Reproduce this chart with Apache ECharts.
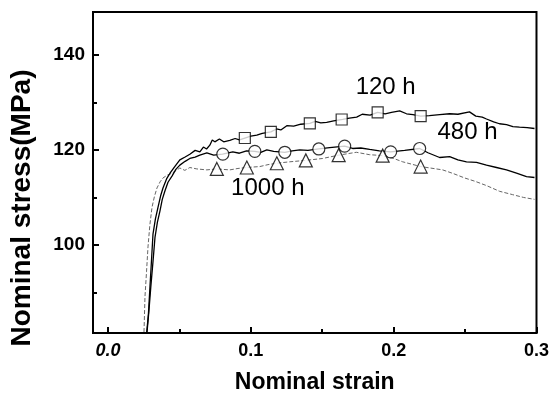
<!DOCTYPE html>
<html><head><meta charset="utf-8">
<script src="https://cdn.jsdelivr.net/npm/echarts@6/dist/echarts.min.js"></script>
<style>html,body{margin:0;padding:0;background:#fff}#c{width:552px;height:399px}</style>
</head><body><div id="c"></div>
<script>
const curve120 = [[0.0271,81.6],[0.0283,85.5],[0.0294,91.3],[0.0305,97.0],[0.0315,102.3],[0.0332,105.5],[0.035,107.9],[0.0368,110.3],[0.0385,112.0],[0.041,113.9],[0.0434,115.1],[0.047,116.6],[0.0503,117.9],[0.054,118.5],[0.0573,119.1],[0.061,119.9],[0.0643,119.6],[0.0668,120.6],[0.069,120.2],[0.0713,121.0],[0.073,122.1],[0.0748,121.7],[0.078,122.3],[0.081,121.7],[0.0853,122.0],[0.089,122.4],[0.092,122.1],[0.0958,122.5],[0.1,122.9],[0.1042,123.1],[0.108,123.5],[0.114,123.8],[0.118,124.4],[0.121,124.2],[0.1252,125.1],[0.13,125.0],[0.135,125.4],[0.1413,125.6],[0.145,126.0],[0.149,125.7],[0.1531,125.8],[0.158,126.1],[0.1643,126.4],[0.169,126.7],[0.1741,126.9],[0.178,127.5],[0.1835,127.3],[0.1888,127.9],[0.194,127.6],[0.1985,127.9],[0.2042,128.2],[0.209,127.6],[0.2135,127.4],[0.2189,127.1],[0.225,127.2],[0.2322,127.4],[0.2392,127.6],[0.245,127.5],[0.2531,128.0],[0.2575,127.1],[0.262,126.9],[0.265,126.5],[0.27,125.9],[0.2741,125.5],[0.279,125.3],[0.2835,124.9],[0.2881,124.8],[0.2935,124.7],[0.2986,124.5]];
const curve480 = [[0.0273,81.6],[0.0286,86],[0.030,91.3],[0.0315,96.5],[0.0329,101.6],[0.0346,104.8],[0.0364,107.2],[0.038,109.6],[0.0399,111.4],[0.042,113.2],[0.0448,114.5],[0.0475,115.9],[0.0503,116.8],[0.054,117.6],[0.0573,118.2],[0.061,118.5],[0.0643,118.9],[0.0692,119.4],[0.074,118.9],[0.0802,119.1],[0.0874,119.6],[0.092,119.3],[0.097,119.8],[0.1028,119.7],[0.107,119.5],[0.1112,120.0],[0.116,119.7],[0.1238,119.5],[0.129,119.8],[0.1343,120.0],[0.14,119.9],[0.1476,120.2],[0.1552,120.5],[0.1657,120.8],[0.1713,120.3],[0.177,120.4],[0.1832,120.1],[0.19,119.8],[0.1979,119.6],[0.2077,119.9],[0.2182,120.3],[0.224,119.4],[0.2322,118.4],[0.2392,118.6],[0.245,117.9],[0.251,117.5],[0.258,117.4],[0.265,116.8],[0.272,116.3],[0.279,115.8],[0.286,115.1],[0.293,114.4],[0.2986,114.2]];
const curve1000 = [[0.0252,81.7],[0.0259,89.2],[0.027,94.5],[0.028,99.6],[0.0293,104.2],[0.0308,107.9],[0.0325,110.2],[0.0343,112.0],[0.0365,113.3],[0.0385,114.1],[0.0415,114.7],[0.0448,115.1],[0.0503,116.2],[0.0538,115.7],[0.0573,116.3],[0.0622,116.0],[0.0692,115.8],[0.076,116.0],[0.0853,115.8],[0.091,116.1],[0.097,116.3],[0.1063,116.5],[0.112,116.9],[0.118,117.2],[0.1273,117.5],[0.1385,117.8],[0.1503,118.2],[0.1615,118.9],[0.1739,119.5],[0.183,119.0],[0.1921,118.8],[0.2,118.2],[0.2063,117.5],[0.2189,116.5],[0.2343,115.8],[0.242,115.0],[0.2497,114.1],[0.257,113.4],[0.265,112.5],[0.2741,111.3],[0.2832,110.6],[0.291,110.0],[0.2986,109.6]];
const markers120 = [[0.0958,122.5],[0.114,123.8],[0.1413,125.6],[0.1636,126.4],[0.1888,127.9],[0.2189,127.1]];
const markers480 = [[0.0804,119.1],[0.1028,119.7],[0.1238,119.5],[0.1476,120.2],[0.1657,120.8],[0.1979,119.6],[0.2182,120.3]];
const markers1000 = [[0.0762,116.0],[0.0972,116.3],[0.1182,117.2],[0.1385,117.8],[0.1615,118.9],[0.1923,118.8],[0.2189,116.5]];
const seriesLabels = [{text:'120 h', pos:[0.1944,133.2]},{text:'480 h', pos:[0.2517,123.6]},{text:'1000 h', pos:[0.1119,111.9]}];
const xMajorTicks = [0, 0.1, 0.2, 0.3];
const xMinorTicks = [0.05, 0.15, 0.25];
const yMajorTicks = [100, 120, 140];
const yMinorTicks = [90, 110, 130];
const xRange = [-0.0105, 0.3];
const yRange = [81.5, 149];
const xTitle = 'Nominal strain';
const yTitle = 'Nominal stress(MPa)';

const FF = '"Liberation Sans", Arial, sans-serif';
const chart = echarts.init(document.getElementById('c'), null, {renderer:'canvas'});
const baseX = {type:'value', min:xRange[0], max:xRange[1], splitLine:{show:false}};
const baseY = {type:'value', min:yRange[0], max:yRange[1], splitLine:{show:false}};
chart.setOption({
  animation:false,
  backgroundColor:'#fff',
  grid:{left:93, right:15, top:12, bottom:62, show:true, borderColor:'#000', borderWidth:2, backgroundColor:'transparent'},
  xAxis:[
    Object.assign({}, baseX, {
      name:xTitle, nameLocation:'middle', nameGap:38,
      nameTextStyle:{fontFamily:FF, fontWeight:'bold', fontSize:23, color:'#000'},
      axisLine:{show:true, onZero:false, lineStyle:{color:'#000', width:2}},
      axisTick:{show:true, inside:true, length:6, lineStyle:{color:'#000', width:2}, customValues:xMajorTicks},
      axisLabel:{show:true, margin:9, customValues:xMajorTicks, fontFamily:FF, fontWeight:'bold', fontSize:18, color:'#000',
        formatter:v=>v===0?'{it|0.0}':v.toFixed(1), rich:{it:{fontStyle:'italic', fontWeight:'bold', fontSize:18, fontFamily:FF, color:'#000'}}}
    }),
    Object.assign({}, baseX, {
      position:'bottom', axisLine:{show:false, onZero:false},
      axisTick:{show:true, inside:true, length:4, lineStyle:{color:'#000', width:2}, customValues:xMinorTicks},
      axisLabel:{show:false}
    })
  ],
  yAxis:[
    Object.assign({}, baseY, {
      axisLine:{show:true, onZero:false, lineStyle:{color:'#000', width:2}},
      axisTick:{show:true, inside:true, length:6, lineStyle:{color:'#000', width:2}, customValues:yMajorTicks},
      axisLabel:{show:true, margin:8, customValues:yMajorTicks, fontFamily:FF, fontWeight:'bold', fontSize:19, color:'#000'}
    }),
    Object.assign({}, baseY, {
      position:'left', axisLine:{show:false, onZero:false},
      axisTick:{show:true, inside:true, length:4, lineStyle:{color:'#000', width:2}, customValues:yMinorTicks},
      axisLabel:{show:false}
    })
  ],
  series:[
    {type:'line', data:curve1000, showSymbol:false, symbol:'none', lineStyle:{color:'#666', width:1, type:[4,2]}, z:2},
    {type:'line', data:curve480, showSymbol:false, symbol:'none', lineStyle:{color:'#000', width:1.3}, z:3},
    {type:'line', data:curve120, showSymbol:false, symbol:'none', lineStyle:{color:'#000', width:1.3}, z:4},
    {type:'scatter', data:markers120, symbol:'rect', symbolSize:11, itemStyle:{color:'#fff', borderColor:'#000', borderWidth:1.2}, z:5},
    {type:'scatter', data:markers480, symbol:'circle', symbolSize:12, itemStyle:{color:'#fff', borderColor:'#000', borderWidth:1.2}, z:5},
    {type:'scatter', data:markers1000, symbol:'triangle', symbolSize:13, itemStyle:{color:'#fff', borderColor:'#000', borderWidth:1.2}, z:5}
  ]
});
const texts = seriesLabels.map(d => {
  const p = chart.convertToPixel({xAxisIndex:0, yAxisIndex:0}, d.pos);
  return {type:'text', x:p[0], y:p[1], z:10, style:{text:d.text, fill:'#000', font:'24px "Liberation Sans", Arial, sans-serif', textAlign:'center', textVerticalAlign:'middle'}};
});
texts.push({type:'text', x:22, y:208, rotation:Math.PI/2, z:10,
  style:{text:yTitle, fill:'#000', font:'bold 28px "Liberation Sans", Arial, sans-serif', textAlign:'center', textVerticalAlign:'middle'}});
chart.setOption({graphic:texts});
</script></body></html>
